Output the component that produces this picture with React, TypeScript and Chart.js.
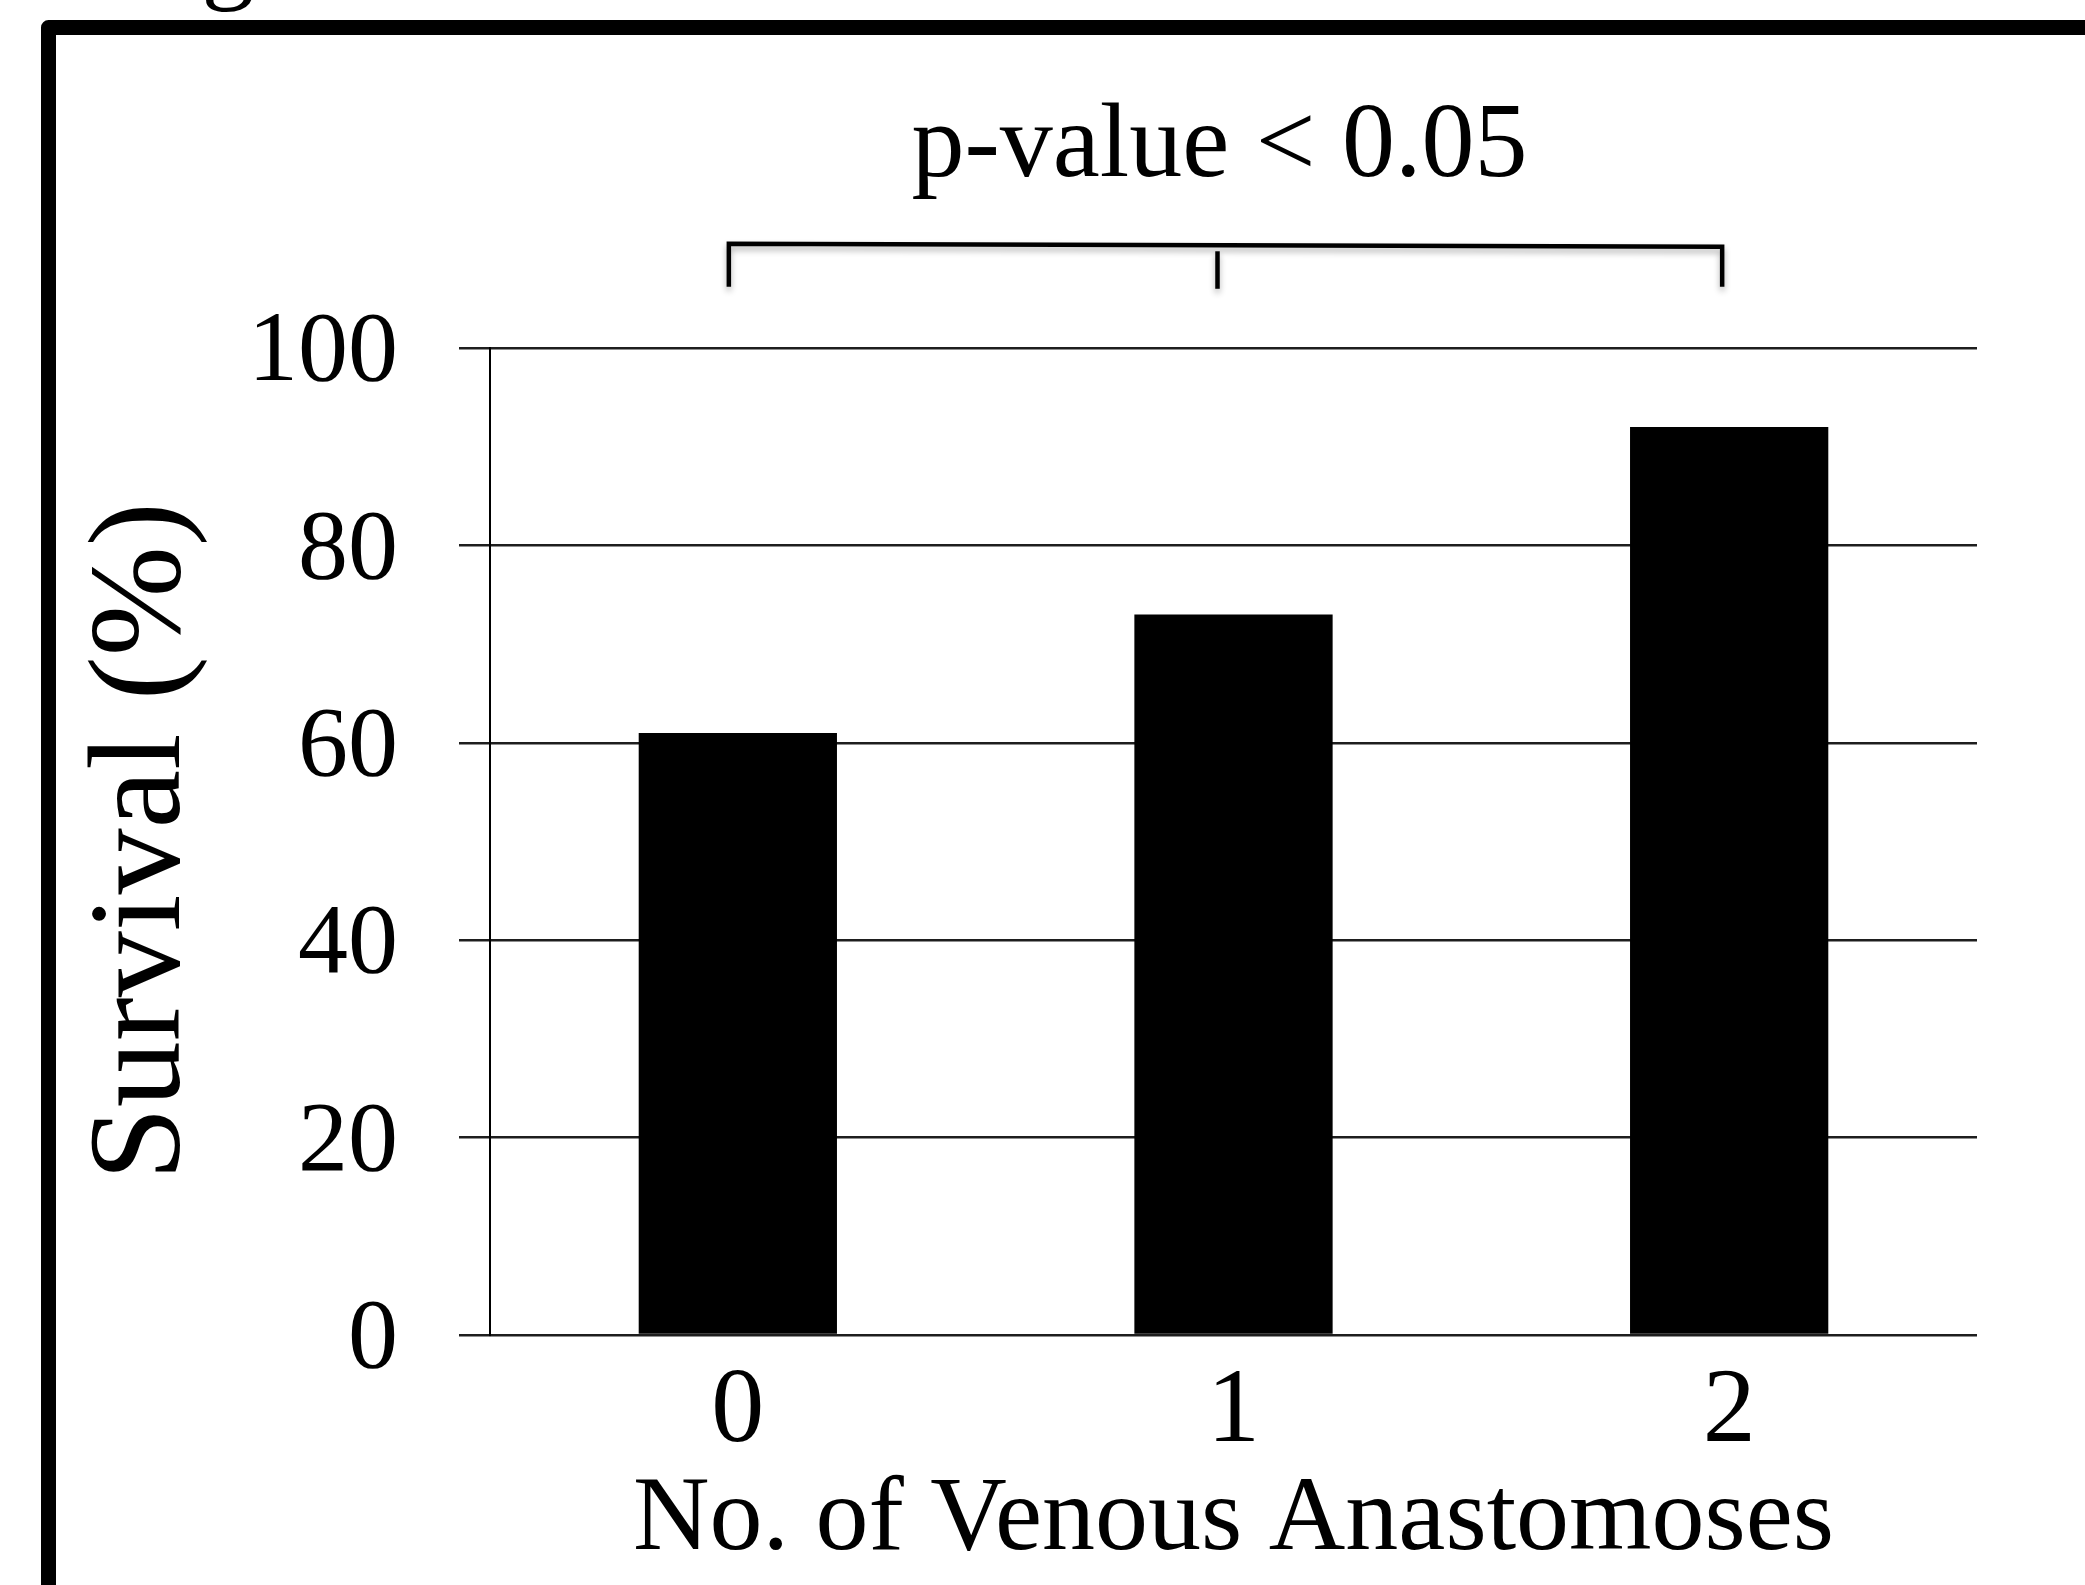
import React, { useEffect, useRef } from "react";
import { Chart, registerables } from "chart.js";

Chart.register(...registerables);

const categories = ["0", "1", "2"];
const survival = [61, 73, 92];
const yTicks = [0, 20, 40, 60, 80, 100];
const pLabel = "p-value < 0.05";
const xTitle = "No. of Venous Anastomoses";
const yTitle = "Survival (%)";
const figLabel = "Fig";
// bracket heights in axis units (above the 100 line)
const bracketLineValue = 110.4;
const bracketEndValue = 106.2;
const bracketMidTopValue = 109.8;
const bracketMidEndValue = 106.0;
const pTextValue = 117.4;

const W = 2085;
const H = 1585;
const SERIF = "'Liberation Serif', 'Times New Roman', Times, serif";

export default function App() {
  const ref = useRef<HTMLCanvasElement>(null);

  useEffect(() => {
    document.body.style.margin = "0";
    const canvas = ref.current!;

    const overlay = {
      id: "overlay",
      afterDraw(chart: any) {
        const ctx = chart.ctx as CanvasRenderingContext2D;
        const xs = chart.scales.x;
        const ys = chart.scales.y;
        ctx.save();

        // outer frame (partially cropped)
        ctx.strokeStyle = "#000";
        ctx.lineWidth = 15;
        ctx.lineJoin = "round";
        ctx.beginPath();
        ctx.moveTo(48.5, chart.height + 30);
        ctx.lineTo(48.5, 27.5);
        ctx.lineTo(chart.width + 30, 27.5);
        ctx.stroke();

        // cropped figure label above frame
        ctx.fillStyle = "#000";
        ctx.font = `106px ${SERIF}`;
        ctx.textAlign = "left";
        ctx.textBaseline = "alphabetic";
        ctx.fillText(figLabel, 113, -11);

        // p-value text
        ctx.textAlign = "center";
        ctx.fillText(pLabel, xs.getPixelForValue(1) - 14, ys.getPixelForValue(pTextValue));

        // bracket
        const x0 = xs.getPixelForValue(0) - 9;
        const x1 = xs.getPixelForValue(1) - 16;
        const x2 = xs.getPixelForValue(2) - 7;
        const yl = ys.getPixelForValue(bracketLineValue);
        const ye = ys.getPixelForValue(bracketEndValue);
        const ymt = ys.getPixelForValue(bracketMidTopValue);
        const yme = ys.getPixelForValue(bracketMidEndValue);
        ctx.shadowColor = "rgba(0,0,0,0.3)";
        ctx.shadowBlur = 6;
        ctx.shadowOffsetY = 4;
        ctx.lineWidth = 4.5;
        ctx.lineJoin = "miter";
        ctx.lineCap = "butt";
        ctx.beginPath();
        ctx.moveTo(x0, ye);
        ctx.lineTo(x0, yl - 1.5);
        ctx.lineTo(x2, yl + 1.5);
        ctx.lineTo(x2, ye);
        ctx.stroke();
        ctx.beginPath();
        ctx.moveTo(x1, ymt);
        ctx.lineTo(x1, yme);
        ctx.stroke();

        ctx.restore();
      },
    };

    const chart = new Chart(canvas, {
      type: "bar",
      data: {
        labels: categories,
        datasets: [
          {
            data: survival,
            backgroundColor: "#000",
            borderWidth: 0,
            categoryPercentage: 1,
            barPercentage: 0.4,
          },
        ],
      },
      options: {
        animation: false,
        responsive: false,
        devicePixelRatio: 1,
        layout: { padding: { top: 348, right: 108, bottom: 0, left: 0 } },
        plugins: {
          legend: { display: false },
          tooltip: { enabled: false },
          title: { display: false },
        },
        scales: {
          x: {
            grid: { display: false },
            border: { display: false },
            ticks: {
              color: "#000",
              font: { family: SERIF, size: 106, lineHeight: 1 },
              padding: 17,
              maxRotation: 0,
            },
            title: {
              display: true,
              text: xTitle,
              color: "#000",
              font: { family: SERIF, size: 106, lineHeight: 1 },
              padding: { top: 0, bottom: 11 },
            },
            afterFit: (scale: any) => {
              scale.height = 250;
            },
          },
          y: {
            min: 0,
            max: 100,
            afterBuildTicks: (scale: any) => {
              scale.ticks = yTicks.map((v) => ({ value: v }));
            },
            grid: {
              color: "#1e1e1e",
              lineWidth: 2.5,
              drawTicks: true,
              tickLength: 31,
            },
            border: { display: true, color: "#000", width: 2 },
            ticks: {
              color: "#000",
              font: { family: SERIF, size: 100, lineHeight: 1 },
              padding: 61,
              labelOffset: 6,
            },
            title: {
              display: true,
              text: yTitle,
              color: "#000",
              font: { family: SERIF, size: 132, lineHeight: 1 },
              padding: { top: 78, bottom: 0 },
            },
            afterFit: (scale: any) => {
              scale.width = 490;
            },
          },
        },
      },
      plugins: [overlay],
    });

    return () => {
      chart.destroy();
    };
  }, []);

  return (
    <canvas
      ref={ref}
      width={W}
      height={H}
      style={{ display: "block", width: `${W}px`, height: `${H}px` }}
    />
  );
}
